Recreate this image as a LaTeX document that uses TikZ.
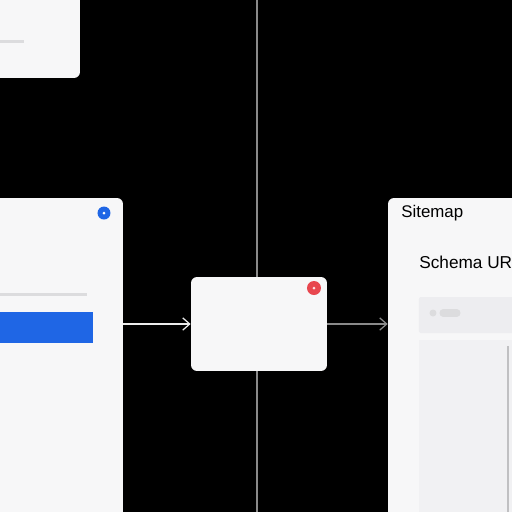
\documentclass[tikz,border=0pt]{standalone}
\usepackage{fontspec}
\setmainfont{Liberation Sans}
\usepackage{xcolor}
\usetikzlibrary{arrows.meta}

\definecolor{cardbg}{HTML}{F7F7F8}
\definecolor{pageblue}{HTML}{1F66E5}
\definecolor{pagered}{HTML}{E8474F}
\definecolor{barline}{HTML}{DCDCDE}
\definecolor{panelone}{HTML}{EDEDF0}
\definecolor{paneltwo}{HTML}{F1F1F3}
\definecolor{guide}{HTML}{8A8A8A}

\tikzset{
  card/.style={fill=cardbg, rounded corners=0.12cm, inner sep=0pt},
  link/.style={draw=#1, line width=0.7pt, -{Straight Barb[length=4pt,width=7pt]}},
  label/.style={anchor=west, inner sep=0pt, font=\fontsize{9.8}{11}\selectfont}
}

\begin{document}
\begin{tikzpicture}[x=0.02cm, y=-0.02cm]
\fill[black] (0,0) rectangle (512,512);
\clip (0,0) rectangle (512,512);
\useasboundingbox (0,0) rectangle (512,512);

% guide line behind everything
\draw[guide, line width=0.8pt] (257,0) -- (257,512);

% top left card
\node[card, minimum width=1.8cm, minimum height=1.76cm] (top) at (35,34) {};
\draw[barline, line width=1.7pt] (0,41) -- (24,41);

% left card
\node[card, minimum width=2.66cm, minimum height=6.64cm] (left) at (56.5,364) {};
\fill[pageblue] (104,213) circle [radius=6.5];
\fill[white] (104,213) circle [radius=1.5];
\draw[barline, line width=1.7pt] (0,294) -- (87,294);
\fill[pageblue] (0,312) rectangle (93,343);

% centre box
\node[card, minimum width=2.72cm, minimum height=1.88cm] (mid) at (259,324) {};
\fill[pagered] (314,288) circle [radius=7];
\fill[white!85!pagered] (314,288) circle [radius=1.5];

% right card
\node[card, minimum width=2.64cm, minimum height=6.64cm] (right) at (454,364) {};
\node[label, font=\fontsize{9.6}{11}\selectfont] (sitemap) at (401,213) {Sitemap};
\node[label] (schema) at (419,262) {Schema URL};
\fill[panelone, rounded corners=0.04cm] (419,297) rectangle (530,333);
\fill[barline] (433,313) circle [radius=3.5];
\draw[barline, line width=4pt, line cap=round] (443,313) -- (457,313);
\fill[paneltwo] (419,340) rectangle (530,530);
\draw[barline!70!gray, line width=1.2pt] (508,346) -- (508,512);

% connectors
\draw[link=white!85!gray] (left.east |- mid.west) -- (mid.west);
\draw[link=guide] (mid.east) -- (right.west |- mid.east);
\end{tikzpicture}
\end{document}
